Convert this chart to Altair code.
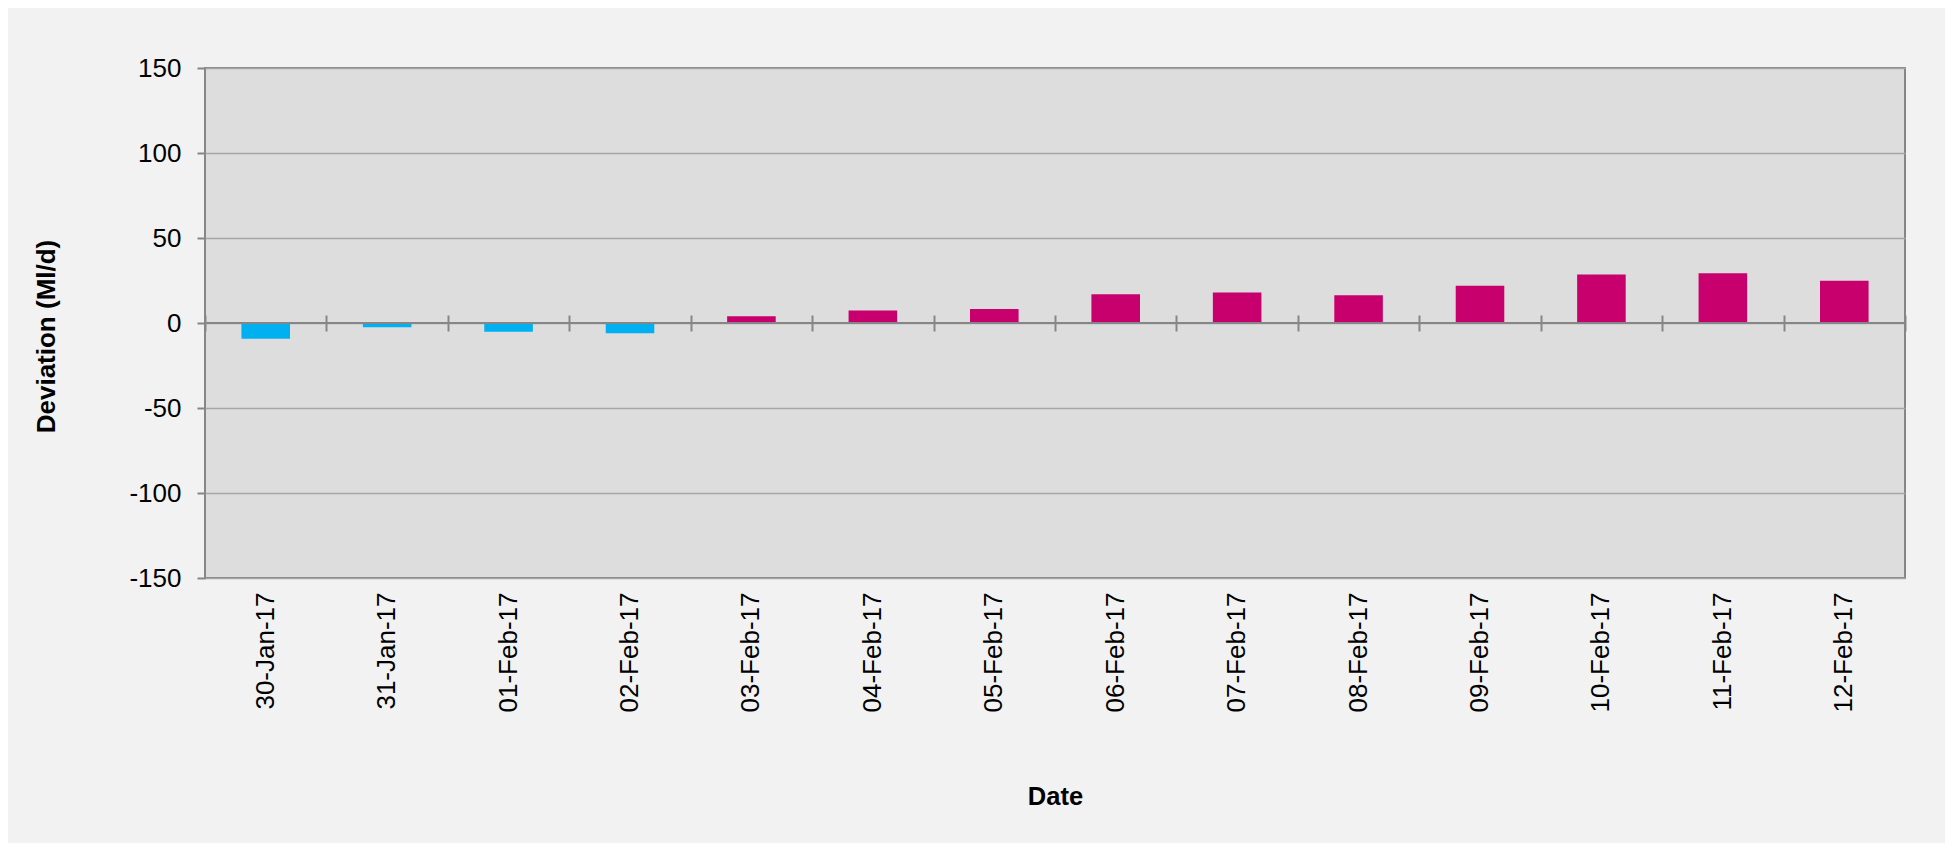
import altair as alt
import pandas as pd

# ---- data ----
dates = ["30-Jan-17", "31-Jan-17", "01-Feb-17", "02-Feb-17", "03-Feb-17",
         "04-Feb-17", "05-Feb-17", "06-Feb-17", "07-Feb-17", "08-Feb-17",
         "09-Feb-17", "10-Feb-17", "11-Feb-17", "12-Feb-17"]
deviation = [-9.2, -2.5, -5.2, -6.1, 3.9, 7.3, 8.2, 16.9, 18.0, 16.3,
             21.9, 28.6, 29.3, 24.8]
y_ticks = [-150, -100, -50, 0, 50, 100, 150]

df = pd.DataFrame({"Date": dates, "Deviation": deviation})

FONT = "Liberation Sans"
GRAY = "#868686"
NEG = "#00B0F0"
POS = "#C8006E"

x_scale = alt.Scale(paddingInner=0, paddingOuter=0)
y_scale = alt.Scale(domain=[-150, 150], nice=False, zero=False)

y_axis = alt.Axis(values=y_ticks, title="Deviation (Ml/d)", grid=True,
                  labelExpr="datum.value + ''",
                  gridColor="#a6a6a6", gridWidth=1.5, domain=False,
                  tickColor=GRAY, tickWidth=2, tickSize=8,
                  labelFont=FONT, labelFontSize=26, labelColor="#000000",
                  labelPadding=16, titleFont=FONT, titleFontSize=26,
                  titleFontWeight="bold", titleColor="#000000",
                  titlePadding=69, titleY=268)

bars = alt.Chart(df).mark_bar(width=alt.RelativeBandSize(0.4)).encode(
    x=alt.X("Date:N", sort=dates, scale=x_scale,
            axis=alt.Axis(orient="top", offset=-263, domain=False, labels=False,
                          title=None, grid=False, tickBand="extent", tickSize=16,
                          tickColor=GRAY, tickWidth=2)),
    y=alt.Y("Deviation:Q", scale=y_scale, axis=y_axis),
    color=alt.condition("datum.Deviation < 0", alt.value(NEG), alt.value(POS)),
)

zero = alt.Chart(df).mark_rule(color=GRAY, strokeWidth=2).encode(
    y=alt.YDatum(0, scale=y_scale, axis=y_axis, title="Deviation (Ml/d)")
)

label_layer = alt.Chart(df).mark_point(opacity=0).encode(
    x=alt.X("Date:N", sort=dates, scale=x_scale,
            axis=alt.Axis(orient="bottom", domain=False, ticks=False, grid=False,
                          labelAngle=-90, labelFont=FONT, labelFontSize=26,
                          labelColor="#000000", labelPadding=14,
                          title="Date", titleFont=FONT, titleFontSize=25.5,
                          titleFontWeight="bold", titleColor="#000000",
                          titlePadding=73)),
)

chart = alt.layer(bars, zero, label_layer).resolve_axis(
    x="independent"
).properties(
    width=1700,
    height=510,
    padding={"left": 197, "top": 60, "right": 40, "bottom": 265},
    autosize=alt.AutoSizeParams(type="none"),
    background="#f2f2f2",
).configure_view(
    fill="#dddddd", stroke=GRAY, strokeWidth=2
)

chart.save("out.html", embed_options={"renderer": "svg", "actions": False})
